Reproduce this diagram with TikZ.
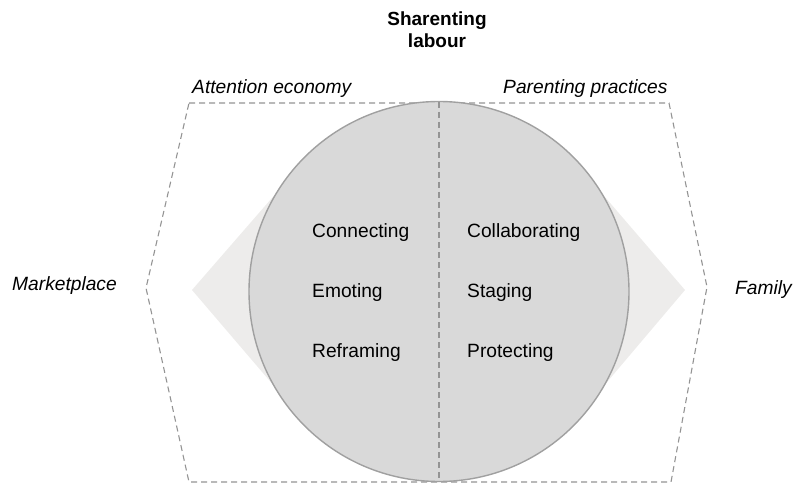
\documentclass[tikz,border=0pt]{standalone}
\usepackage{fontspec}
\setmainfont{Liberation Sans}
\begin{document}
\begin{tikzpicture}[x=1pt,y=-1pt,
  dashline/.style={draw=black!42,line width=1.1pt,dash pattern=on 6pt off 4pt},
  lbl/.style={font=\fontsize{19.2}{22}\selectfont,inner sep=0pt},
  itl/.style={lbl,font=\fontsize{19.2}{22}\selectfont\itshape},
  ttl/.style={lbl,font=\fontsize{19}{22}\selectfont\bfseries,align=center}]
\definecolor{circfill}{HTML}{D9D9D9}
\definecolor{circline}{HTML}{A0A0A0}
\definecolor{kitefill}{HTML}{EDECEB}
\useasboundingbox (0,0) rectangle (793,484);
% dashed hexagon
\draw[dashline] (189,103) -- (669,103) -- (707,287) -- (671,482) -- (189,482) -- (146,288) -- cycle;
% light kites
\fill[kitefill] (192,290) -- (298,168) -- (439,291) -- (298,414) -- cycle;
\fill[kitefill] (685,290) -- (580,168) -- (439,291) -- (580,414) -- cycle;
% circle
\node[circle,fill=circfill,draw=circline,line width=1.4pt,minimum size=380pt,inner sep=0pt] (c) at (439,291.5) {};
\coordinate (ctop) at (439,102);
\coordinate (cbot) at (439,481);
\draw[dashline] (ctop) -- (cbot);
% texts
\node[ttl] (title) at (437,30) {Sharenting\\labour};
\node[itl,anchor=west] (att) at (192,89) {Attention economy};
\node[itl,anchor=west] (par) at (503,89) {Parenting practices};
\node[itl,anchor=west] (mkt) at (12,286) {Marketplace};
\node[itl,anchor=west] (fam) at (735,290) {Family};
\node[lbl,anchor=base west] (c1) at (312,237) {Connecting};
\node[lbl,anchor=base west] (c2) at (312,297) {Emoting};
\node[lbl,anchor=base west] (c3) at (312,357) {Reframing};
\node[lbl,anchor=base west] (d1) at (467,237) {Collaborating};
\node[lbl,anchor=base west] (d2) at (467,297) {Staging};
\node[lbl,anchor=base west] (d3) at (467,357) {Protecting};
\end{tikzpicture}
\end{document}
